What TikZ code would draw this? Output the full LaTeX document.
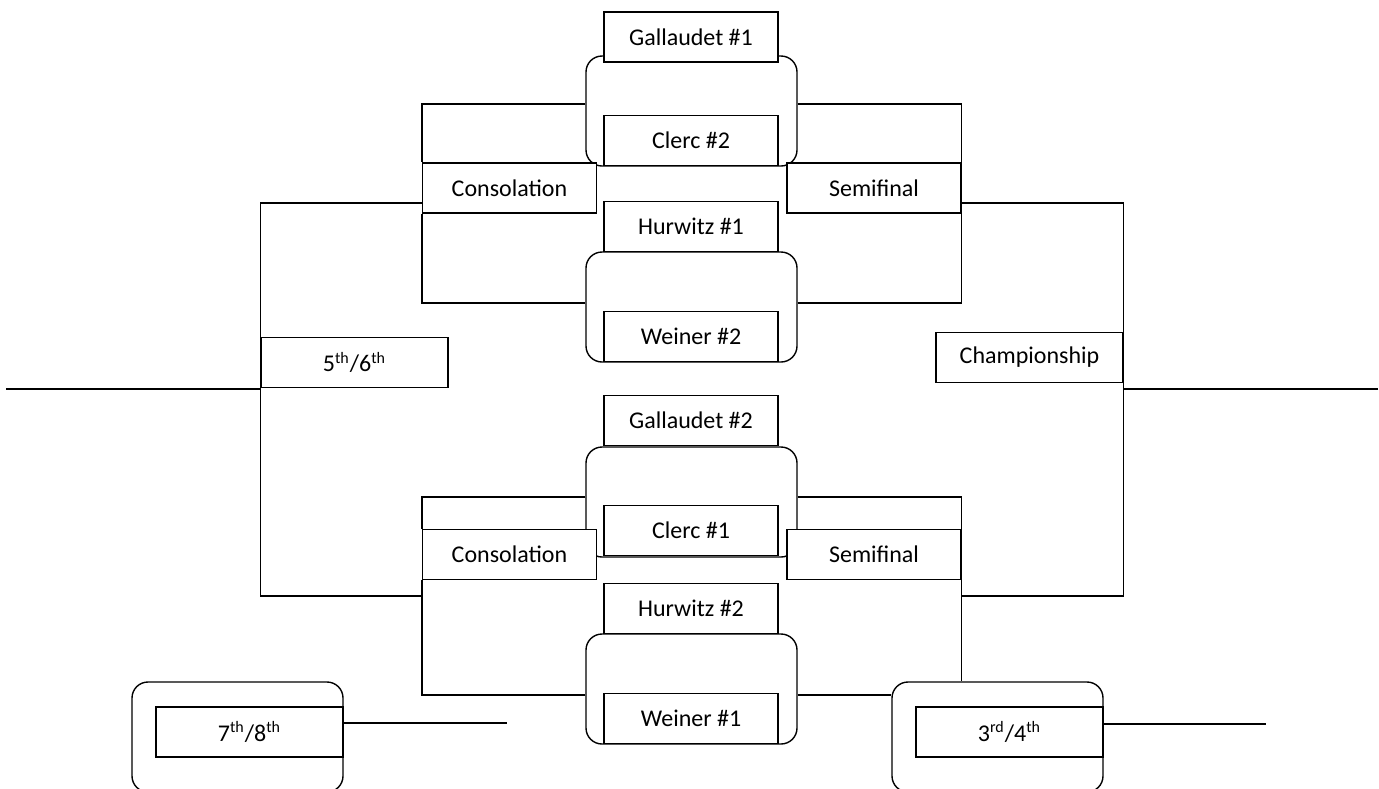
\documentclass[tikz,border=0pt]{standalone}
\usepackage{fontspec}
\setmainfont{Carlito}
\tikzset{
  pairbox/.style={draw, line width=.7pt, rounded corners=8pt,
    minimum width=105.5pt, minimum height=55pt, inner sep=0pt},
  teambox/.style={draw, fill=white, line width=.7pt,
    minimum width=87pt, minimum height=25pt, inner sep=0pt},
  placebox/.style={teambox, minimum width=93.5pt},
}
\begin{document}
\begin{tikzpicture}[x=.5pt, y=-.5pt, font=\fontsize{12}{14}\selectfont, line width=.7pt]
\useasboundingbox (0,0) rectangle (1379,788);
% rounded frames round each pairing
\node[pairbox] (pr1) at (691.5,111) {};
\node[pairbox] (pr2) at (691.5,307) {};
\node[pairbox] (pr3) at (691.5,502) {};
\node[pairbox] (pr4) at (691.5,689) {};
\node[pairbox] (pr78) at (237.5,737) {};
\node[pairbox] (pr34) at (997.5,737) {};

% teams
\node[teambox] (gal1) at (691,37) {Gallaudet \#1};
\node[teambox] (clerc2) at (691,140.5) {Clerc \#2};
\node[teambox] (hur1) at (691,226.5) {Hurwitz \#1};
\node[teambox] (wei2) at (691,336.5) {Weiner \#2};
\node[teambox] (gal2) at (691,420.5) {Gallaudet \#2};
\node[teambox] (clerc1) at (691,530.5) {Clerc \#1};
\node[teambox] (hur2) at (691,608.5) {Hurwitz \#2};
\node[teambox] (wei1) at (691,718.5) {Weiner \#1};

% games
\node[teambox] (con1) at (509.5,188) {Consolation};
\node[teambox] (sem1) at (874,188) {Semifinal};
\node[teambox] (con2) at (509.5,554.5) {Consolation};
\node[teambox] (sem2) at (874,554.5) {Semifinal};
\node[placebox] (five) at (354.5,362.5) {5\textsuperscript{th}/6\textsuperscript{th}};
\node[placebox] (champ) at (1029.5,357.5) {Championship};
\node[placebox] (seven) at (249.5,732) {7\textsuperscript{th}/8\textsuperscript{th}};
\node[placebox] (third) at (1009.5,732) {3\textsuperscript{rd}/4\textsuperscript{th}};

% brackets
\draw ([yshift=3.5pt]pr1.west) -| (con1.north west);
\draw ([yshift=2pt]pr2.west) -| (con1.south west);
\draw ([yshift=3.5pt]pr1.east) -| (sem1.north east);
\draw ([yshift=2pt]pr2.east) -| (sem1.south east);
\draw ([yshift=2.5pt]pr3.west) -| (con2.north west);
\draw ([yshift=-3pt]pr4.west) -| (con2.south west);
\draw ([yshift=2.5pt]pr3.east) -| (sem2.north east);
\draw (sem2.south east) -- (sem2.south east |- pr34.north);
\draw ([yshift=-3pt]pr4.east) -- ([yshift=-3pt]pr4.east -| pr34.west);

\coordinate (m1) at (423,203);
\coordinate (m2) at (423,596);
\coordinate (m3) at (961,203);
\coordinate (m4) at (961,596);
\draw (m1) -| (five.west) |- (m2);
\draw (m3) -| (champ.east) |- (m4);

% loose ends
\coordinate (endL) at (6,389);
\coordinate (endR) at (1378,389);
\coordinate (end78) at (507,723);
\coordinate (end34) at (1266,724);
\draw[line width=.6pt] (endL) -- (endL -| five.west);
\draw[line width=.6pt] (endR) -- (endR -| champ.east);
\draw[line width=.6pt] (seven.east |- end78) -- (end78);
\draw[line width=.6pt] (third.east |- end34) -- (end34);
\end{tikzpicture}
\end{document}
